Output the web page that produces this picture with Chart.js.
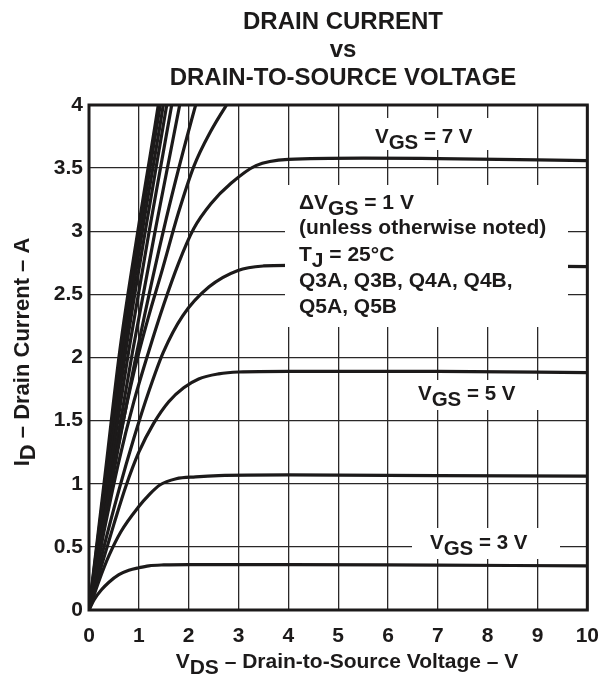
<!DOCTYPE html>
<html>
<head>
<meta charset="utf-8">
<script src="https://cdn.jsdelivr.net/npm/chart.js@4.4.1/dist/chart.umd.min.js"></script>
<style>
  body { margin: 0; background: #fff; }
  #wrap { width: 613px; height: 680px; }
</style>
</head>
<body>
<div id="wrap"><canvas id="idChart"></canvas></div>
<script>
// Output characteristics, ID vs VDS, one curve per gate voltage.
// Points are [VDS, ID].
const curve3V = [[0,0],[0.1,0.08],[0.25,0.16],[0.4,0.22],[0.6,0.28],[0.8,0.315],[1.0,0.335],[1.2,0.35],[1.5,0.357],[2,0.36],[4,0.36],[7,0.355],[10,0.35]];
const curve4V = [[0,0],[0.2,0.23],[0.4,0.43],[0.64,0.62],[1.0,0.82],[1.2,0.91],[1.42,0.99],[1.75,1.04],[2.14,1.055],[2.6,1.065],[4,1.07],[7,1.065],[10,1.06]];
const curve5V = [[0,0],[0.25,0.35],[0.5,0.68],[0.74,0.98],[1.0,1.25],[1.3,1.48],[1.6,1.65],[1.9,1.76],[2.2,1.83],[2.6,1.87],[3,1.885],[4,1.89],[7,1.89],[10,1.88]];
const curve6V = [[0,0],[0.3,0.5],[0.6,0.95],[0.9,1.36],[1.2,1.73],[1.49,2.04],[1.88,2.33],[2.41,2.56],[2.99,2.69],[3.5,2.725],[4,2.73],[7,2.73],[10,2.72]];
const curve7V = [[0,0],[0.3,0.62],[0.6,1.18],[0.9,1.65],[1.2,2.05],[1.5,2.42],[1.8,2.75],[2.1,3.02],[2.45,3.22],[2.85,3.38],[3.35,3.52],[4,3.57],[5.5,3.58],[7,3.575],[10,3.56]];
const curve8V = [[0,0],[0.3,0.7],[0.6,1.33],[0.9,1.88],[1.2,2.33],[1.46,2.68],[1.79,3.14],[2.11,3.52],[2.44,3.79],[2.76,4.0],[3.1,4.2]];
const curve9V = [[0,0],[0.5,1.1],[0.97,2.06],[1.55,3.1],[2.14,4.0],[2.4,4.35]];
const curve10V = [[0,0],[0.45,1.08],[0.88,2.06],[1.35,3.05],[1.82,4.0],[2.0,4.35]];
const curve11V = [[0,0],[0.4,1.05],[0.8,2.06],[1.23,3.05],[1.66,4.0],[1.8,4.3]];
const curve12V = [[0,0],[0.37,1.05],[0.74,2.06],[1.15,3.05],[1.56,4.0],[1.7,4.3]];
const curve13V = [[0,0],[0.35,1.04],[0.7,2.06],[1.09,3.05],[1.49,4.0],[1.6,4.3]];
const curve14V = [[0,0],[0.33,1.04],[0.66,2.06],[1.04,3.05],[1.43,4.0],[1.55,4.3]];
const curve15V = [[0,0],[0.31,1.03],[0.62,2.06],[1.0,3.05],[1.39,4.0],[1.5,4.3]];

const curveNames = ["3 V","4 V","5 V","6 V","7 V","8 V","9 V","10 V","11 V","12 V","13 V","14 V","15 V"];
const curves = [curve3V, curve4V, curve5V, curve6V, curve7V, curve8V, curve9V, curve10V, curve11V, curve12V, curve13V, curve14V, curve15V];

const xTickLabels = ["0","1","2","3","4","5","6","7","8","9","10"];
const yTickLabels = ["0","0.5","1","1.5","2","2.5","3","3.5","4"];

const FONT = '"Liberation Sans", Arial, Helvetica, sans-serif';
const INK = "#1c1a1a";

// draws text made of pieces, some of them subscripts
function richWidth(ctx, parts, size) {
  let w = 0;
  parts.forEach(p => {
    ctx.font = "bold " + size + "px " + FONT;
    w += ctx.measureText(p.t).width;
  });
  return w;
}
function drawRich(ctx, parts, x, y, size) {
  let cx = x;
  parts.forEach(p => {
    ctx.font = "bold " + size + "px " + FONT;
    ctx.fillText(p.t, cx, y + (p.sub ? Math.round(size * 0.27) : 0));
    cx += ctx.measureText(p.t).width;
  });
}

const labelsPlugin = {
  id: "labels",
  afterDatasetsDraw(chart) {
    const ctx = chart.ctx;
    ctx.save();
    // white panels behind the in-plot notes
    ctx.fillStyle = "#fff";
    ctx.fillRect(362, 118, 128, 32);
    ctx.fillRect(285, 185, 283, 142);
    ctx.fillRect(405, 380, 155, 30);
    ctx.fillRect(412, 528, 148, 31);

    ctx.fillStyle = INK;
    ctx.textBaseline = "alphabetic";
    ctx.textAlign = "left";
    drawRich(ctx, [{t:"V"},{t:"GS",sub:true},{t:" = 7 V"}], 375, 143, 20.5);
    drawRich(ctx, [{t:"\u0394V"},{t:"GS",sub:true},{t:" = 1 V"}], 299, 209, 21);
    drawRich(ctx, [{t:"(unless otherwise noted)"}], 299, 234, 21);
    drawRich(ctx, [{t:"T"},{t:"J",sub:true},{t:" = 25\u00B0C"}], 299, 261, 21);
    drawRich(ctx, [{t:"Q3A, Q3B, Q4A, Q4B,"}], 299, 287, 21);
    drawRich(ctx, [{t:"Q5A, Q5B"}], 299, 313, 21);
    drawRich(ctx, [{t:"V"},{t:"GS",sub:true},{t:" = 5 V"}], 418, 400, 20.5);
    drawRich(ctx, [{t:"V"},{t:"GS",sub:true},{t:" = 3 V"}], 430, 549, 20.5);

    // title
    ctx.textAlign = "center";
    ctx.font = "bold 24px " + FONT;
    ctx.fillText("DRAIN CURRENT", 343, 29);
    ctx.fillText("vs", 343, 57);
    ctx.fillText("DRAIN-TO-SOURCE VOLTAGE", 343, 85);

    // x axis title
    ctx.textAlign = "left";
    const xParts = [{t:"V"},{t:"DS",sub:true},{t:" \u2013 Drain-to-Source Voltage \u2013 V"}];
    const xw = richWidth(ctx, xParts, 21);
    drawRich(ctx, xParts, 347 - xw / 2, 668, 21);

    // y axis title, rotated
    const yParts = [{t:"I"},{t:"D",sub:true},{t:" \u2013 Drain Current \u2013 A"}];
    const yw = richWidth(ctx, yParts, 22);
    ctx.translate(29, 352);
    ctx.rotate(-Math.PI / 2);
    drawRich(ctx, yParts, -yw / 2, 0, 22);
    ctx.restore();

    // plot frame
    const a = chart.chartArea;
    ctx.save();
    ctx.strokeStyle = INK;
    ctx.lineWidth = 3;
    ctx.strokeRect(a.left, a.top, a.right - a.left, a.bottom - a.top);
    ctx.restore();
  }
};

new Chart(document.getElementById("idChart").getContext("2d"), {
  type: "line",
  data: {
    datasets: curves.map((pts, i) => ({
      label: "VGS = " + curveNames[i],
      data: pts.map(p => ({ x: p[0], y: p[1] })),
      borderColor: INK,
      borderWidth: 3.2,
      pointRadius: 0,
      fill: false,
      cubicInterpolationMode: "monotone",
      clip: 0
    }))
  },
  options: {
    responsive: true,
    maintainAspectRatio: false,
    animation: false,
    layout: { padding: { left: 0, right: 16, top: 105, bottom: 0 } },
    plugins: { legend: { display: false }, title: { display: false }, tooltip: { enabled: false } },
    scales: {
      x: {
        type: "linear",
        min: 0, max: 10,
        afterFit(scale) { scale.height = 70; },
        grid: { color: "#2a2828", lineWidth: 1.3, drawTicks: false },
        border: { display: false },
        ticks: {
          stepSize: 1,
          padding: 14,
          color: INK,
          font: { family: FONT, size: 21, weight: "bold" },
          callback: (v, i) => xTickLabels[i]
        }
      },
      y: {
        type: "linear",
        min: 0, max: 4,
        afterFit(scale) { scale.width = 89; },
        grid: { color: "#2a2828", lineWidth: 1.3, drawTicks: false },
        border: { display: false },
        ticks: {
          stepSize: 0.5,
          padding: 6,
          color: INK,
          font: { family: FONT, size: 21, weight: "bold" },
          callback: (v, i) => yTickLabels[i]
        }
      }
    }
  },
  plugins: [labelsPlugin]
});
</script>
</body>
</html>
